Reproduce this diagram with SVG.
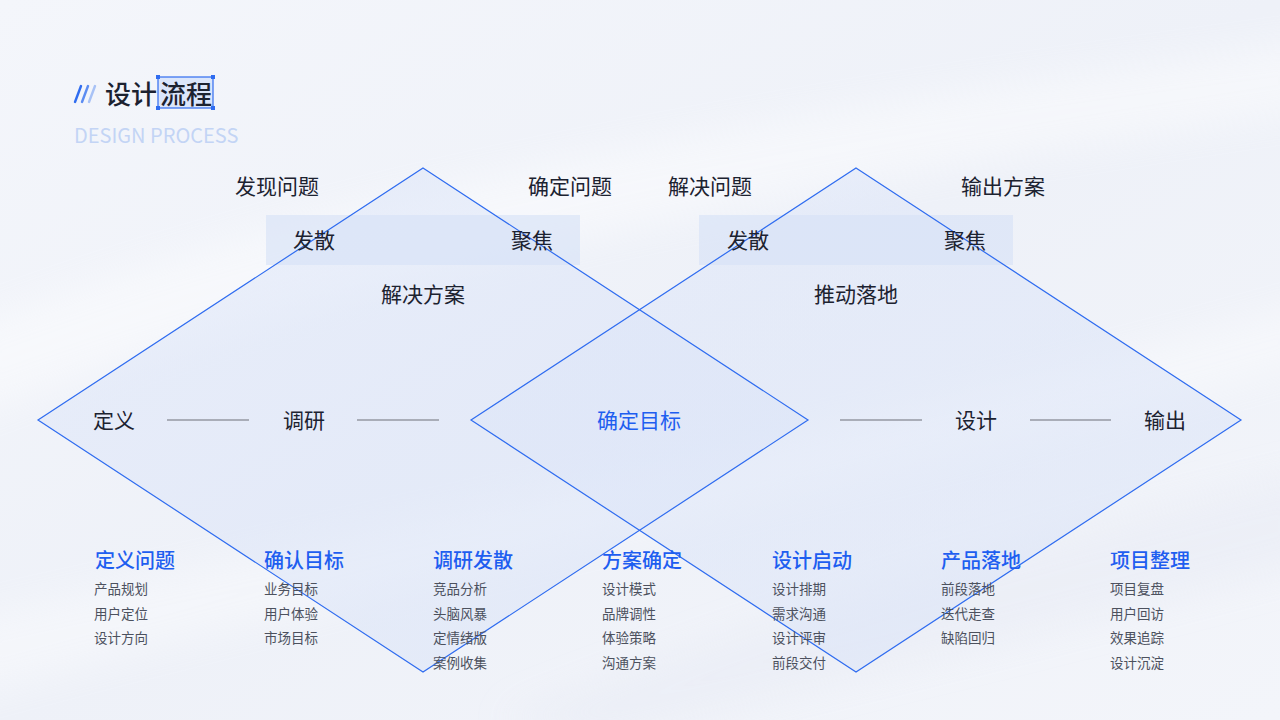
<svg xmlns="http://www.w3.org/2000/svg" width="1280" height="720" viewBox="0 0 1280 720">
  <defs>
    <linearGradient id="bg" x1="0" y1="0" x2="1" y2="1">
      <stop offset="0" stop-color="#f4f6fb"/>
      <stop offset="0.5" stop-color="#eef1f8"/>
      <stop offset="1" stop-color="#f3f5fa"/>
    </linearGradient>
    <linearGradient id="diamondFill" x1="0" y1="0" x2="1" y2="1">
      <stop offset="0" stop-color="#dfe7f9" stop-opacity="0.55"/>
      <stop offset="1" stop-color="#d8e2f7" stop-opacity="0.5"/>
    </linearGradient>
    <filter id="soft" x="-20%" y="-20%" width="140%" height="140%">
      <feGaussianBlur stdDeviation="18"/>
    </filter>
    <style>
      .t { font-family: "Noto Sans CJK SC", "Noto Sans", sans-serif; }
      .stage { font-size: 21px; fill: #1c2230; text-anchor: middle; }
      .key { font-size: 21px; fill: #1e5ef0; text-anchor: middle; }
      .head { font-size: 20px; fill: #1e5ef0; font-weight: 500; }
      .item { font-size: 13.5px; fill: #4c515e; }
      .diamond { fill: url(#diamondFill); }
      .outline { fill: none; stroke: #2f6cf0; stroke-width: 1.2; }
      .band { fill: #d6e1f7; fill-opacity: 0.6; }
      .link { stroke: #a9adb8; stroke-width: 2; }
      .handle { fill: #2f6cf0; }
    </style>
  </defs>

  <!-- background with soft light swooshes -->
  <rect width="1280" height="720" fill="url(#bg)"/>
  <g filter="url(#soft)" opacity="0.7">
    <path d="M-40 330 C 300 200, 700 120, 1320 40 L 1320 110 C 700 200, 300 290, -40 420 Z" fill="#ffffff" opacity="0.6"/>
    <path d="M-40 620 C 400 520, 900 420, 1320 300 L 1320 360 C 900 480, 400 580, -40 700 Z" fill="#ffffff" opacity="0.5"/>
    <path d="M500 720 C 800 600, 1100 520, 1320 470 L 1320 560 C 1100 620, 800 690, 600 740 Z" fill="#e6eaf4" opacity="0.6"/>
  </g>

  <!-- title -->
  <g id="title">
    <g stroke="#2f6cf0" stroke-width="2.4" stroke-linecap="round">
      <line x1="75" y1="102" x2="81" y2="86"/>
      <line x1="82" y1="102" x2="88" y2="86" stroke="#5b8cf2"/>
      <line x1="89" y1="102" x2="95" y2="86" stroke="#a8c2f6"/>
    </g>
    <text class="t" x="105" y="104" font-size="26" font-weight="500" fill="#1c2230">设计</text>
    <rect x="158" y="77" width="55" height="31" fill="#dbe6fb" stroke="#2f6cf0" stroke-width="1.2"/>
    <text class="t" x="160" y="104" font-size="26" font-weight="500" fill="#1c2230">流程</text>
    <rect class="handle" x="156" y="75" width="4" height="4"/>
    <rect class="handle" x="211" y="75" width="4" height="4"/>
    <rect class="handle" x="156" y="106" width="4" height="4"/>
    <rect class="handle" x="211" y="106" width="4" height="4"/>
    <text class="t" x="74" y="143" font-size="20" fill="#c3d4f5">DESIGN PROCESS</text>
  </g>

  <!-- diamonds and bands -->
  <g id="diamond-left">
    <polygon class="diamond" points="423,168 808,420 423,672 38,420"/>
  </g>
  <g id="diamond-right">
    <polygon class="diamond" points="856,168 1241,420 856,672 471,420"/>
  </g>
  <g id="band-left">
    <rect class="band" x="266" y="215" width="314" height="50"/>
  </g>
  <g id="band-right">
    <rect class="band" x="699" y="215" width="314" height="50"/>
  </g>
  <!-- diamond outlines stay on top of both fills and bands -->
  <g id="diamond-outlines">
    <polygon class="outline" points="423,168 808,420 423,672 38,420"/>
    <polygon class="outline" points="856,168 1241,420 856,672 471,420"/>
  </g>

  <!-- connectors -->
  <g id="connectors">
    <line class="link" x1="167" y1="420" x2="249" y2="420"/>
    <line class="link" x1="357" y1="420" x2="439" y2="420"/>
    <line class="link" x1="840" y1="420" x2="922" y2="420"/>
    <line class="link" x1="1030" y1="420" x2="1111" y2="420"/>
  </g>

  <!-- stage labels -->
  <g id="labels-top" class="t">
    <text class="stage" x="277" y="194">发现问题</text>
    <text class="stage" x="570" y="194">确定问题</text>
    <text class="stage" x="710" y="194">解决问题</text>
    <text class="stage" x="1003" y="194">输出方案</text>
    <text class="stage" x="314" y="248">发散</text>
    <text class="stage" x="532" y="248">聚焦</text>
    <text class="stage" x="748" y="248">发散</text>
    <text class="stage" x="965" y="248">聚焦</text>
    <text class="stage" x="423" y="302">解决方案</text>
    <text class="stage" x="856" y="302">推动落地</text>
  </g>
  <g id="node-define"><text class="t stage" x="114" y="428">定义</text></g>
  <g id="node-research"><text class="t stage" x="304" y="428">调研</text></g>
  <g id="node-goal"><text class="t key" x="639" y="428">确定目标</text></g>
  <g id="node-design"><text class="t stage" x="976" y="428">设计</text></g>
  <g id="node-output"><text class="t stage" x="1165" y="428">输出</text></g>

  <!-- phase columns -->
  <g id="col-1" class="t">
    <text class="head" x="95" y="568">定义问题</text>
    <text class="item" x="94" y="594">产品规划</text>
    <text class="item" x="94" y="619">用户定位</text>
    <text class="item" x="94" y="643">设计方向</text>
  </g>
  <g id="col-2" class="t">
    <text class="head" x="264" y="568">确认目标</text>
    <text class="item" x="264" y="594">业务目标</text>
    <text class="item" x="264" y="619">用户体验</text>
    <text class="item" x="264" y="643">市场目标</text>
  </g>
  <g id="col-3" class="t">
    <text class="head" x="433" y="568">调研发散</text>
    <text class="item" x="433" y="594">竞品分析</text>
    <text class="item" x="433" y="619">头脑风暴</text>
    <text class="item" x="433" y="643">定情绪版</text>
    <text class="item" x="433" y="668">案例收集</text>
  </g>
  <g id="col-4" class="t">
    <text class="head" x="602" y="568">方案确定</text>
    <text class="item" x="602" y="594">设计模式</text>
    <text class="item" x="602" y="619">品牌调性</text>
    <text class="item" x="602" y="643">体验策略</text>
    <text class="item" x="602" y="668">沟通方案</text>
  </g>
  <g id="col-5" class="t">
    <text class="head" x="772" y="568">设计启动</text>
    <text class="item" x="772" y="594">设计排期</text>
    <text class="item" x="772" y="619">需求沟通</text>
    <text class="item" x="772" y="643">设计评审</text>
    <text class="item" x="772" y="668">前段交付</text>
  </g>
  <g id="col-6" class="t">
    <text class="head" x="941" y="568">产品落地</text>
    <text class="item" x="941" y="594">前段落地</text>
    <text class="item" x="941" y="619">迭代走查</text>
    <text class="item" x="941" y="643">缺陷回归</text>
  </g>
  <g id="col-7" class="t">
    <text class="head" x="1110" y="568">项目整理</text>
    <text class="item" x="1110" y="594">项目复盘</text>
    <text class="item" x="1110" y="619">用户回访</text>
    <text class="item" x="1110" y="643">效果追踪</text>
    <text class="item" x="1110" y="668">设计沉淀</text>
  </g>
</svg>
